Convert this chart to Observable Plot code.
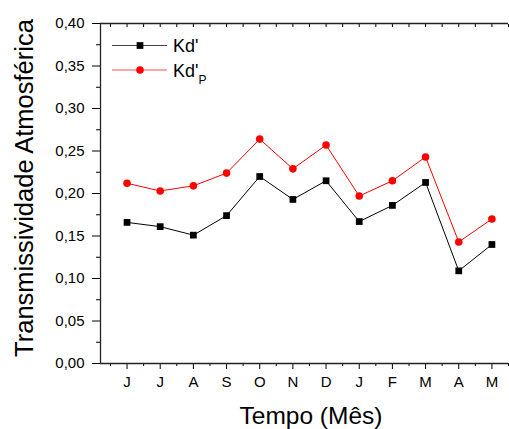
<!DOCTYPE html>
<html>
<head>
<meta charset="utf-8">
<script src="https://cdn.jsdelivr.net/npm/d3@7"></script>
<script src="https://cdn.jsdelivr.net/npm/@observablehq/plot@0.6"></script>
<style>
  html, body { margin: 0; padding: 0; background: #fff; }
  #chart { width: 509px; height: 429px; }
</style>
</head>
<body>
<div id="chart"></div>
<script>
const months = ["J","J","A","S","O","N","D","J","F","M","A","M"];
const kd  = [0.166,0.161,0.151,0.174,0.220,0.193,0.215,0.167,0.186,0.213,0.109,0.140];
const kdP = [0.212,0.203,0.209,0.224,0.264,0.229,0.257,0.197,0.215,0.243,0.143,0.170];
const yTicks = [0,0.05,0.10,0.15,0.20,0.25,0.30,0.35,0.40];
const yMinor = [0.025,0.075,0.125,0.175,0.225,0.275,0.325,0.375];
const yTitle = "Transmissividade Atmosférica";
const xTitle = "Tempo (Mês)";
const seriesNames = ["Kd'", "Kd'"];

const xIdx = months.map((m, i) => i + 1);
const xHalf = months.map((m, i) => i + 0.5).concat([12.5]);
const xTop = xIdx.concat(xHalf);
const dKd = months.map((m, i) => ({x: i + 1, y: kd[i]}));
const dKdP = months.map((m, i) => ({x: i + 1, y: kdP[i]}));
const fmt = d => d.toFixed(2).replace(".", ",");

const chart = Plot.plot({
  width: 509, height: 429,
  marginLeft: 100, marginRight: 1, marginTop: 23, marginBottom: 66,
  x: {type: "linear", domain: [0.2, 12.5]},
  y: {domain: [0, 0.4]},
  style: {fontFamily: "'Liberation Sans', Arial, sans-serif", fontSize: "15px", color: "#000", background: "#fff"},
  marks: [
    Plot.axisY(yTicks, {tickSize: 8, tickPadding: 8, tickFormat: fmt, label: null}),
    Plot.axisY(yMinor, {tickSize: 4, tickFormat: () => "", label: null}),
    Plot.axisX(xIdx, {tickSize: 6, tickPadding: 7, tickFormat: d => months[d - 1], label: null}),
    Plot.axisX(xHalf, {tickSize: 3, tickFormat: () => "", label: null}),
    Plot.axisX(xTop, {anchor: "top", tickSize: -3, tickFormat: () => "", label: null}),
    Plot.ruleX([0.2], {stroke: "#222", strokeWidth: 1.3}),
    Plot.ruleY([0], {stroke: "#222", strokeWidth: 1.3}),
    Plot.ruleY([0.4], {stroke: "#222", strokeWidth: 1.3}),
    Plot.line(dKd, {x: "x", y: "y", stroke: "#000", strokeWidth: 1}),
    Plot.line(dKdP, {x: "x", y: "y", stroke: "#ff0000", strokeWidth: 1}),
    Plot.dot(dKd, {x: "x", y: "y", symbol: "square", r: 3.8, fill: "#000"}),
    Plot.dot(dKdP, {x: "x", y: "y", symbol: "circle", r: 3.8, fill: "#ff0000"})
  ]
});
document.getElementById("chart").appendChild(chart);

const svg = d3.select(chart);
const ff = "'Liberation Sans', Arial, sans-serif";
svg.append("text")
  .attr("transform", "translate(33,188) rotate(-90)")
  .attr("text-anchor", "middle")
  .attr("font-family", ff).attr("font-size", 25.5).attr("fill", "#000")
  .text(yTitle);
svg.append("text")
  .attr("x", 311).attr("y", 424)
  .attr("text-anchor", "middle")
  .attr("font-family", ff).attr("font-size", 24.5).attr("fill", "#000")
  .text(xTitle);

// legend
const lg = svg.append("g").attr("font-family", ff).attr("fill", "#000").attr("text-anchor", "start");
lg.append("line").attr("x1", 112).attr("x2", 167).attr("y1", 45.5).attr("y2", 45.5).attr("stroke", "#444").attr("stroke-width", 1);
lg.append("path").attr("d", d3.symbol(d3.symbolSquare, 3.8 * 3.8 * Math.PI)()).attr("transform", "translate(140,45.5)").attr("fill", "#000");
lg.append("text").attr("x", 173).attr("y", 52).attr("font-size", 18).attr("text-anchor", "start").text(seriesNames[0]);
lg.append("line").attr("x1", 112).attr("x2", 167).attr("y1", 70).attr("y2", 70).attr("stroke", "#ff5050").attr("stroke-width", 1);
lg.append("circle").attr("cx", 140).attr("cy", 70).attr("r", 3.8).attr("fill", "#ff0000");
const t2 = lg.append("text").attr("x", 173).attr("y", 76.5).attr("font-size", 18).attr("text-anchor", "start");
t2.append("tspan").text(seriesNames[1]);
t2.append("tspan").attr("font-size", 12).attr("dy", 7).text("P");
</script>
</body>
</html>
